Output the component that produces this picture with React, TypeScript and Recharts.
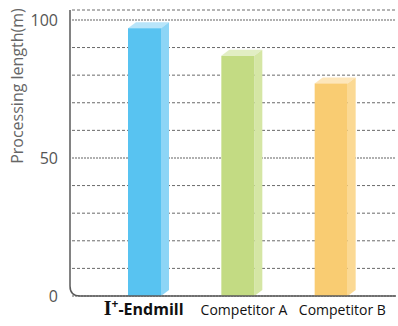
import { BarChart, Bar, XAxis, YAxis, CartesianGrid, ReferenceLine } from "recharts";

const CATEGORIES = ["I+-Endmill", "Competitor A", "Competitor B"];
const LENGTHS = [97, 87, 77];
const Y_TICKS = [0, 10, 20, 30, 40, 50, 60, 70, 80, 90, 100];
const Y_LABELED = [0, 50, 100];

const data = CATEGORIES.map((name, i) => ({ name, length: LENGTHS[i] }));

// front / side / top shades per bar
const PALETTE = [
  { front: "#58c3f1", side: "#8dd5f6", top: "#b8e5fa" },
  { front: "#c3db83", side: "#d5e6a5", top: "#e2eec4" },
  { front: "#f9cc72", side: "#fbd994", top: "#fde6ba" },
];

const FONT = "'Open Sans', sans-serif";
const PLOT_TOP = 10;
const DX = 8;
const DY = 6;

function Bar3D(props: any) {
  const { x, y, width, height, index } = props;
  const c = PALETTE[index % PALETTE.length];
  const r = x + width;
  const b = y + height;
  return (
    <g>
      <polygon
        points={`${x},${y} ${x + DX},${y - DY} ${r + DX},${y - DY} ${r},${y}`}
        fill={c.top}
      />
      <polygon
        points={`${r},${y} ${r + DX},${y - DY} ${r + DX},${b - DY} ${r},${b}`}
        fill={c.side}
      />
      <rect x={x} y={y} width={width} height={height} fill={c.front} />
    </g>
  );
}

function GridLine(props: any) {
  const { x1, x2, y1, index } = props;
  const major = index % 5 === 0;
  return (
    <line
      key={`g-${index}`}
      x1={x1 + 2}
      x2={x2}
      y1={y1}
      y2={y1}
      stroke={major ? "#b0b0b0" : "#6a6a6a"}
      strokeWidth={major ? 2 : 1}
      strokeDasharray={major ? "2 1" : "3 2"}
    />
  );
}

function AxisCorner(props: any) {
  const { x1, y1, x2 } = props;
  const rad = 10;
  return (
    <path
      d={`M${x1},${PLOT_TOP} V${y1 - rad} Q${x1},${y1} ${x1 + rad},${y1} H${x2}`}
      fill="none"
      stroke="#5a5a5a"
      strokeWidth={1.5}
    />
  );
}

function YTick(props: any) {
  const { x, y, payload } = props;
  if (!Y_LABELED.includes(payload.value)) return <g />;
  return (
    <text x={x} y={y} dy={6} textAnchor="end" fontSize={16} fill="#555" fontFamily={FONT}>
      {payload.value}
    </text>
  );
}

const LABEL_SHIFT = [-1, 6, 11];

function XTick(props: any) {
  const { x, y, payload, index } = props;
  const cx = x + LABEL_SHIFT[index];
  if (index === 0) {
    return (
      <text x={cx} y={y + 17} textAnchor="middle" fill="#111" fontFamily={FONT} fontWeight="bold" fontSize={16}>
        <tspan fontFamily="'Liberation Serif', serif" fontSize={20}>
          I
        </tspan>
        <tspan dy={-7} fontSize={12}>
          +
        </tspan>
        <tspan dy={7}>-Endmill</tspan>
      </text>
    );
  }
  return (
    <text x={cx} y={y + 17} textAnchor="middle" fill="#111" fontFamily={FONT} fontSize={14}>
      {payload.value}
    </text>
  );
}

export default function App() {
  return (
    <div style={{ position: "absolute", left: 0, top: 0, background: "#fff" }}>
      <BarChart width={398} height={326} data={data} margin={{ top: PLOT_TOP, right: 2, left: 0, bottom: 0 }}>
        <CartesianGrid vertical={false} horizontal={GridLine} />
        <XAxis
          dataKey="name"
          height={30}
          axisLine={false}
          tickLine={false}
          tickSize={0}
          padding={{ left: 28, right: 18 }}
          tick={XTick}
          interval={0}
        />
        <YAxis
          width={70}
          domain={[0, 103.6]}
          ticks={Y_TICKS}
          axisLine={false}
          tickLine={false}
          tickSize={0}
          tickMargin={12}
          tick={YTick}
          interval={0}
          label={{
            content: () => (
              <text
                transform="translate(23, 86) rotate(-90)"
                textAnchor="middle"
                fontSize={16}
                fill="#666"
                fontFamily={FONT}
              >
                Processing length(m)
              </text>
            ),
          }}
        />
        <ReferenceLine y={0} shape={AxisCorner} />
        <Bar dataKey="length" barSize={33} shape={Bar3D} isAnimationActive={false} />
      </BarChart>
    </div>
  );
}
